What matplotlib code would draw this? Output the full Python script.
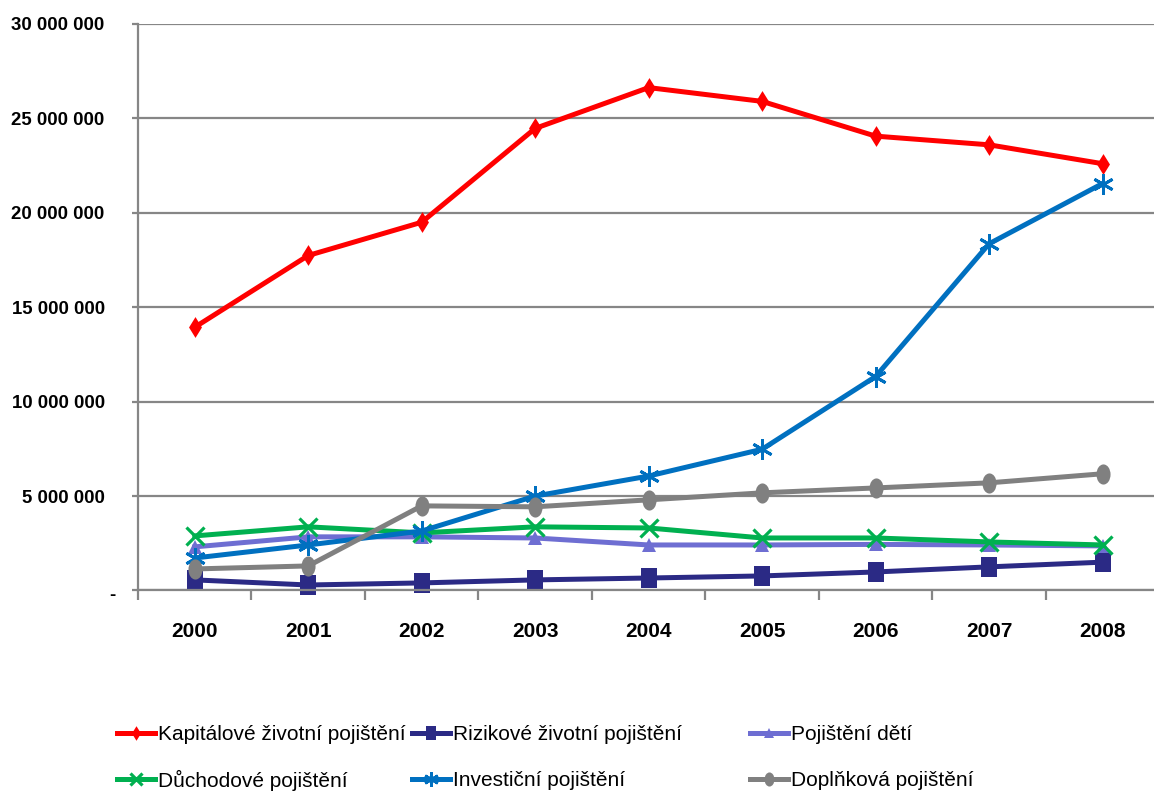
import matplotlib
matplotlib.use("Agg")
import matplotlib.pyplot as plt
from matplotlib import font_manager
from matplotlib.lines import Line2D
from matplotlib.path import Path
from matplotlib.transforms import Affine2D, ScaledTranslation
from matplotlib.ticker import FixedLocator, FuncFormatter

years = ["2000", "2001", "2002", "2003", "2004", "2005", "2006", "2007", "2008"]

kapitalove = [13940000, 17740000, 19500000, 24470000, 26630000, 25900000, 24060000, 23600000, 22600000]
rizikove = [560000, 290000, 400000, 560000, 660000, 770000, 980000, 1250000, 1500000]
deti = [2310000, 2840000, 2840000, 2780000, 2410000, 2410000, 2440000, 2410000, 2360000]
duchodove = [2890000, 3370000, 3050000, 3370000, 3310000, 2780000, 2780000, 2570000, 2410000]
investicni = [1720000, 2410000, 3150000, 5000000, 6060000, 7480000, 11330000, 18360000, 21550000]
doplnkova = [1140000, 1300000, 4480000, 4430000, 4800000, 5170000, 5430000, 5700000, 6180000]

series_names = [
    "Kapitálové životní pojištění",
    "Rizikové životní pojištění",
    "Pojištění dětí",
    "Důchodové pojištění",
    "Investiční pojištění",
    "Doplňková pojištění",
]

available = {f.name for f in font_manager.fontManager.ttflist}
base = "Liberation Sans" if "Liberation Sans" in available else "DejaVu Sans"
plt.rcParams["font.family"] = [base, "DejaVu Sans"]

# tall marker shapes
diamond_tall = Path([(0, 1), (0.62, 0), (0, -1), (-0.62, 0), (0, 1)],
                    [Path.MOVETO, Path.LINETO, Path.LINETO, Path.LINETO, Path.CLOSEPOLY])
rect_tall = Path([(-0.78, -1), (0.78, -1), (0.78, 1), (-0.78, 1), (-0.78, -1)],
                 [Path.MOVETO, Path.LINETO, Path.LINETO, Path.LINETO, Path.CLOSEPOLY])
ellipse_tall = Path.unit_circle().transformed(Affine2D().scale(0.7, 1.0))

fig = plt.figure(figsize=(11.54, 7.96), dpi=100)
ax = fig.add_axes([0.1196, 0.2582, 0.885, 0.7117])

x = list(range(len(years)))
grid_col = "#868686"

styles = [
    dict(color="#FF0000", marker=diamond_tall, ms=15, mew=0),
    dict(color="#2B2A85", marker=rect_tall, ms=14.5, mew=0),
    dict(color="#6E6ED2", marker="^", ms=10, mew=0),
    dict(color="#00B050", marker="x", ms=12.5, mew=2.3),
    dict(color="#0070C0", marker=(6, 2, 0), ms=15, mew=2.1),
    dict(color="#808080", marker=ellipse_tall, ms=14.5, mew=0),
]
data = [kapitalove, rizikove, deti, duchodove, investicni, doplnkova]

for vals, name, st in zip(data, series_names, styles):
    ax.plot(x, vals, lw=3.6, label=name, solid_joinstyle="round",
            clip_on=False, **st)

ax.set_xlim(-0.5, len(years) - 0.5)
ax.set_ylim(0, 30000000)

ax.set_yticks(range(0, 30000001, 5000000))
ax.yaxis.set_major_formatter(FuncFormatter(
    lambda v, p: "-" if v == 0 else f"{int(v):,}".replace(",", " ")))
ax.grid(axis="y", color=grid_col, lw=1.6)
ax.set_axisbelow(True)

ax.set_xticks(x)
ax.set_xticklabels(years)
ax.xaxis.set_minor_locator(FixedLocator([i - 0.5 for i in range(len(years) + 1)]))
ax.tick_params(axis="x", which="major", length=0, pad=23)
ax.tick_params(axis="x", which="minor", length=7, width=1.6, color=grid_col, direction="out")
ax.tick_params(axis="y", length=4, width=1.6, color=grid_col, pad=20)

for lab in ax.get_xticklabels():
    lab.set_fontsize(15)
    lab.set_fontweight("bold")
for lab in ax.get_yticklabels():
    lab.set_fontsize(13.4)
    lab.set_fontweight("bold")

# the zero label sits a little to the right of the others
zero_tick = ax.yaxis.get_major_ticks()[0]
zero_tick.label1.set_transform(zero_tick.label1.get_transform()
                               + ScaledTranslation(0.11, -0.03, fig.dpi_scale_trans))

for side in ("top", "right"):
    ax.spines[side].set_visible(False)
for side in ("left", "bottom"):
    ax.spines[side].set_color(grid_col)
    ax.spines[side].set_linewidth(1.6)

# legend: 3 columns x 2 rows, row-major order
W, H = 1154.0, 796.0
col_px = [117, 412, 750]
row_px = [733, 779]
handle_len = 38
for i, (name, st) in enumerate(zip(series_names, styles)):
    cx = col_px[i % 3]
    ry = row_px[i // 3]
    xs = [cx / W, (cx + handle_len / 2) / W, (cx + handle_len) / W]
    ys = [1 - ry / H] * 3
    lst = dict(st)
    lst["ms"] = st["ms"] * 0.7
    fig.add_artist(Line2D(xs, ys, transform=fig.transFigure, lw=3.6,
                          markevery=[1], **lst))
    fig.text((cx + handle_len + 3) / W, 1 - (ry + 1) / H, name,
             fontsize=15, ha="left", va="center")

fig.savefig("out.png", dpi=100)
